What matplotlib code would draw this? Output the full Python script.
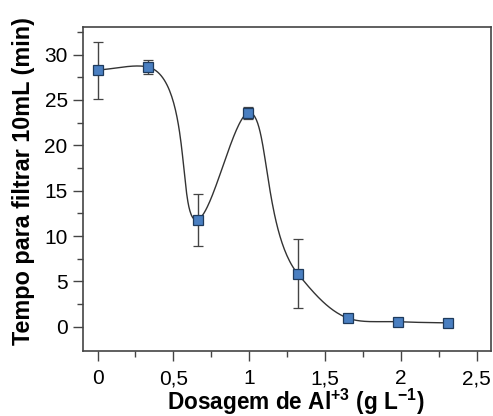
import numpy as np
import matplotlib
matplotlib.use("Agg")
import matplotlib.pyplot as plt

dose = [0, 0.33, 0.66, 0.99, 1.32, 1.65, 1.98, 2.31]
tempo = [28.3, 28.65, 11.8, 23.55, 5.85, 0.95, 0.55, 0.42]
erro = [3.15, 0.75, 2.87, 0.7, 3.77, 0.0, 0.0, 0.0]
xticks = [0, 0.5, 1, 1.5, 2, 2.5]
xticklabels = ['0', '0,5', '1', '1,5', '2', '2,5']
yticks = [0, 5, 10, 15, 20, 25, 30]

plt.rcParams['font.family'] = ['Liberation Sans', 'DejaVu Sans']
plt.rcParams['mathtext.fontset'] = 'custom'
plt.rcParams['mathtext.rm'] = 'Liberation Sans'
plt.rcParams['mathtext.bf'] = 'Liberation Sans:bold'

fig = plt.figure(figsize=(4.93, 4.16), dpi=100)
ax = fig.add_axes([83/493, 65/416, 408/493, 324/416])
ax.set_xlim(-0.096, 2.595)
ax.set_ylim(-2.68, 33.05)


def catmull(P, alpha=1.0, npts=60):
    P = np.vstack([2*P[0]-P[1], P, 2*P[-1]-P[-2]])
    res = []
    for i in range(1, len(P)-2):
        p0, p1, p2, p3 = P[i-1], P[i], P[i+1], P[i+2]
        t0 = 0
        t1 = t0 + np.linalg.norm(p1-p0)**alpha
        t2 = t1 + np.linalg.norm(p2-p1)**alpha
        t3 = t2 + np.linalg.norm(p3-p2)**alpha
        for t in np.linspace(t1, t2, npts):
            A1 = (t1-t)/(t1-t0)*p0 + (t-t0)/(t1-t0)*p1
            A2 = (t2-t)/(t2-t1)*p1 + (t-t1)/(t2-t1)*p2
            A3 = (t3-t)/(t3-t2)*p2 + (t-t2)/(t3-t2)*p3
            B1 = (t2-t)/(t2-t0)*A1 + (t-t0)/(t2-t0)*A2
            B2 = (t3-t)/(t3-t1)*A2 + (t-t1)/(t3-t1)*A3
            res.append((t2-t)/(t2-t1)*B1 + (t-t1)/(t2-t1)*B2)
    return np.array(res)


disp = ax.transData.transform(np.column_stack([dose, tempo]))
curve = ax.transData.inverted().transform(catmull(disp, 1.0))
ax.plot(curve[:, 0], curve[:, 1], color='#333333', lw=1, zorder=2)

ax.errorbar(dose, tempo, yerr=erro, fmt='s', ms=7.7, mfc='#4a7fc1', mec='#1e3a5c', mew=0.9,
            ecolor='#444444', elinewidth=1, capsize=3.6, capthick=1, zorder=3)

ax.set_xticks(xticks)
ax.set_xticklabels(xticklabels)
ax.set_yticks(yticks)
ax.set_xticks(np.arange(0.25, 2.6, 0.5), minor=True)
ax.set_yticks(np.arange(2.5, 33, 5), minor=True)
ax.tick_params(which='major', direction='out', length=7, width=1, color='#444444', labelsize=15, pad=4)
ax.tick_params(axis='x', which='major', pad=6)
ax.tick_params(which='minor', direction='out', length=4, width=1, color='#444444')
for s in ax.spines.values():
    s.set_color('#444444')
    s.set_linewidth(1.2)
ax.set_xlabel(r'Dosagem de Al$^{\mathbf{+3}}$ (g L$^{\mathbf{-1}}$)', fontsize=16.3, fontweight='bold')
ax.set_ylabel('Tempo para filtrar 10mL (min)', fontsize=16.8, fontweight='bold')
ax.xaxis.set_label_coords(0.522, -0.11)
ax.yaxis.set_label_coords(-0.118, 0.525)
fig.savefig('out.png', dpi=100)
